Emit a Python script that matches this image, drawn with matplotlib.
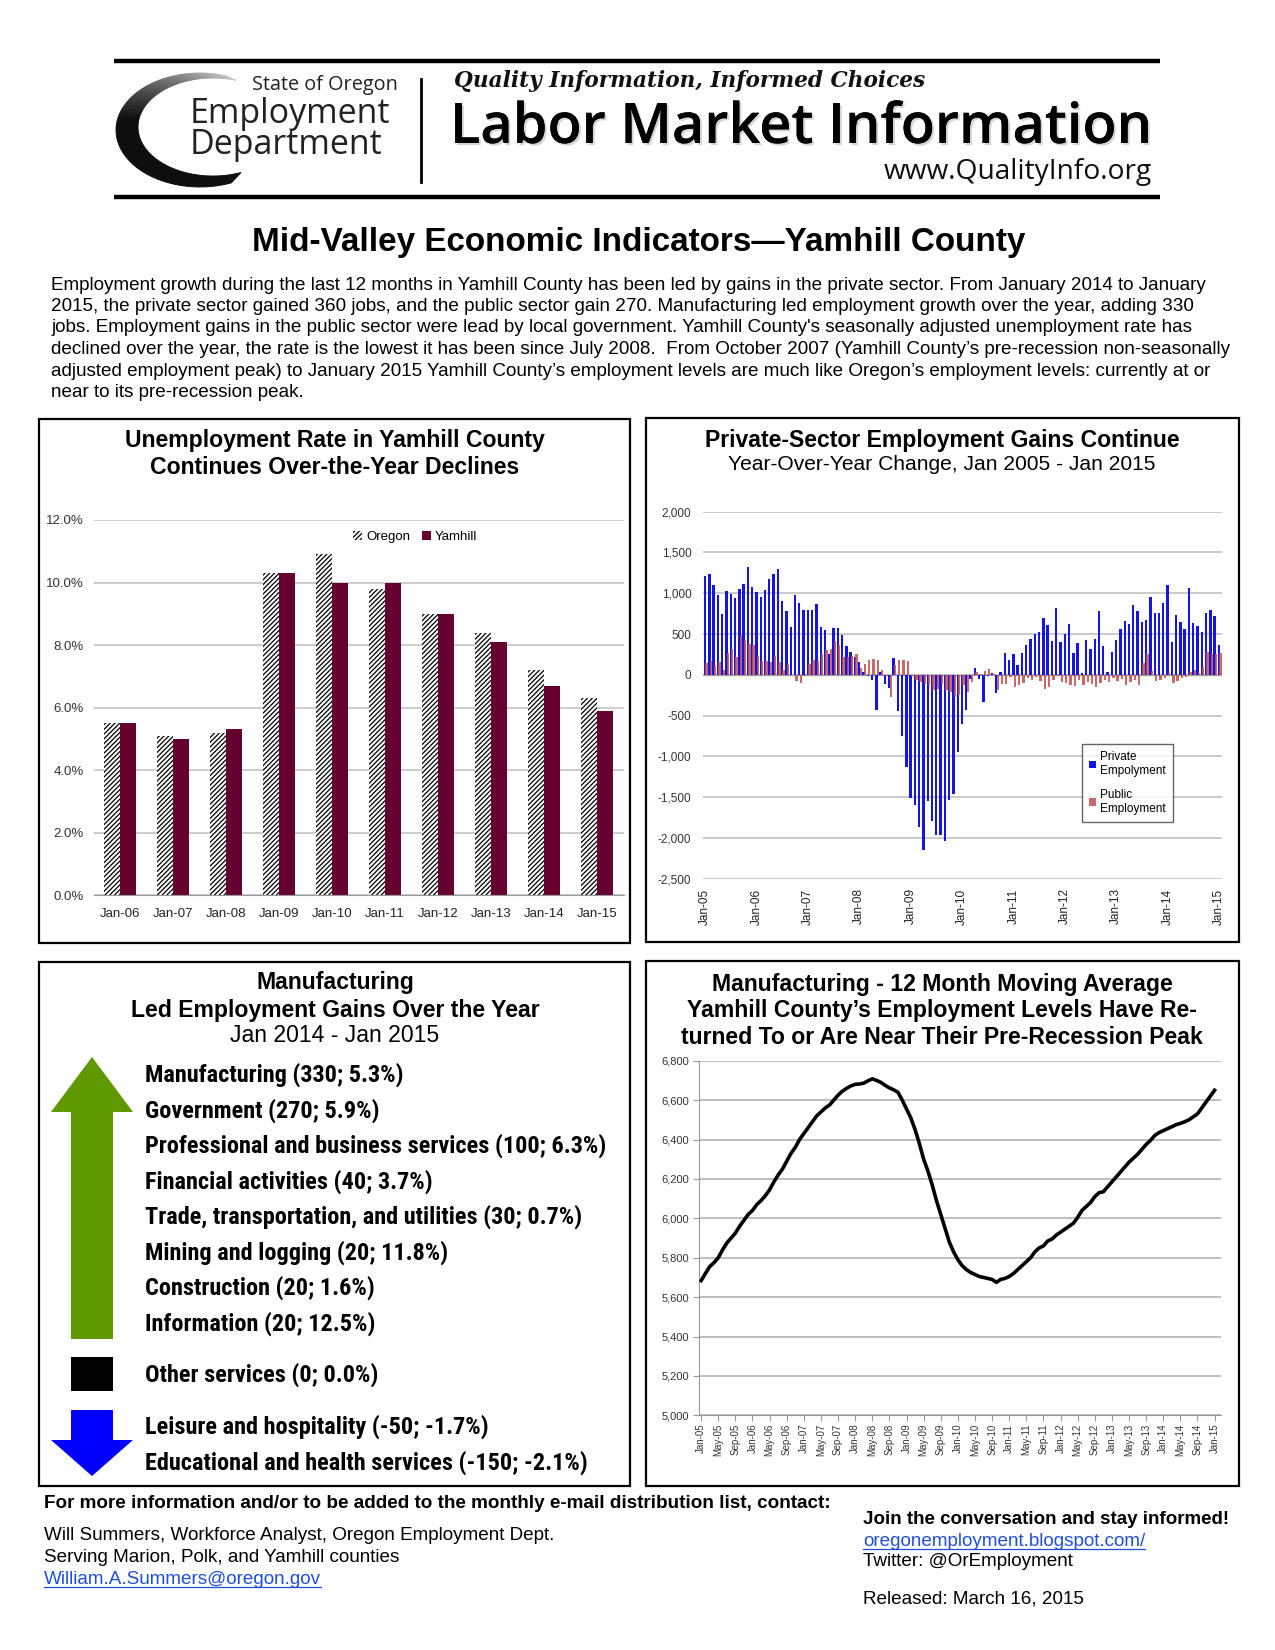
import matplotlib
matplotlib.use("Agg")
import matplotlib.pyplot as plt
import matplotlib.font_manager as fm
import matplotlib.patheffects as pe
from matplotlib.patches import Rectangle, Polygon
import numpy as np

# ---------------- data ----------------
unemp_labels = ["Jan-06", "Jan-07", "Jan-08", "Jan-09", "Jan-10",
                "Jan-11", "Jan-12", "Jan-13", "Jan-14", "Jan-15"]
oregon_rate = [5.5, 5.1, 5.2, 10.3, 10.9, 9.8, 9.0, 8.4, 7.2, 6.3]
yamhill_rate = [5.5, 5.0, 5.3, 10.3, 10.0, 10.0, 9.0, 8.1, 6.7, 5.9]

yoy_ticks = ["Jan-05", "Jan-06", "Jan-07", "Jan-08", "Jan-09", "Jan-10",
             "Jan-11", "Jan-12", "Jan-13", "Jan-14", "Jan-15"]
# monthly year-over-year change, Jan 2005 .. Jan 2015
private_change = [
    1208, 1240, 1106, 975, 745, 1027, 997, 945, 1055, 1115, 1320, 1078,
    1013, 955, 1037, 1174, 1240, 1292, 908, 782, 584, 977, 884, 798,
    798, 798, 866, 590, 545, 250, 580, 580, 485, 355, 283, 215,
    158, 35, -10, -60, -436, 32, -108, -156, 212, -440, -745, -1130,
    -1515, -1600, -1860, -2150, -1548, -1792, -1960, -1960, -2040, -1540, -1460, -948,
    -608, -428, -48, 84, -48, -336, -20, 20, -220, 32, 262, 178,
    254, 125, 268, 371, 445, 497, 526, 694, 612, 420, 815, 404,
    500, 629, 268, 395, 20, 422, 322, 445, 780, 352, 30, 283,
    432, 563, 661, 629, 855, 780, 651, 667, 957, 759, 759, 875,
    1106, 400, 730, 650, 560, 1060, 640, 600, 520, 760, 800, 720,
    360]
public_change = [
    139, 171, 106, 159, 57, 269, 322, 220, 490, 424, 383, 363,
    228, 167, 171, 159, 228, 159, 57, 129, 0, -76, -100, -10,
    129, 178, 171, 260, 300, 320, 413, 370, 219, 219, 227, 252,
    88, 137, 187, 199, 187, 60, -20, -268, 117, 178, 187, 164,
    -20, -68, -88, -108, -128, -188, -168, -108, -188, -208, -268, -248,
    -128, -208, -88, 30, 10, 50, 70, 10, -188, -108, -108, -28,
    -150, -130, -100, -40, -60, -30, -80, -170, -150, -60, -20, -90,
    -100, -120, -140, -60, -120, -90, -110, -150, -100, -60, -90, -40,
    -80, -50, -120, -90, -60, -130, 150, 260, 50, -80, -60, -40,
    20, -100, -80, -40, -30, 40, 60, 20, 100, 280, 250, 260,
    270]

mfg_ticks = ["Jan-05", "May-05", "Sep-05", "Jan-06", "May-06", "Sep-06",
             "Jan-07", "May-07", "Sep-07", "Jan-08", "May-08", "Sep-08",
             "Jan-09", "May-09", "Sep-09", "Jan-10", "May-10", "Sep-10",
             "Jan-11", "May-11", "Sep-11", "Jan-12", "May-12", "Sep-12",
             "Jan-13", "May-13", "Sep-13", "Jan-14", "May-14", "Sep-14",
             "Jan-15"]
mfg_avg = [
    5684, 5720, 5755, 5775, 5800, 5840, 5875, 5900, 5925, 5960, 5990, 6020,
    6040, 6070, 6090, 6115, 6145, 6185, 6220, 6250, 6290, 6330, 6360, 6400,
    6430, 6460, 6490, 6520, 6540, 6560, 6575, 6600, 6625, 6645, 6660, 6672,
    6680, 6682, 6686, 6698, 6708, 6700, 6690, 6675, 6662, 6652, 6640, 6600,
    6555, 6510, 6450, 6380, 6300, 6240, 6170, 6090, 6020, 5950, 5880, 5830,
    5790, 5760, 5740, 5725, 5715, 5705, 5700, 5695, 5690, 5675, 5690, 5695,
    5705, 5720, 5740, 5760, 5780, 5800, 5830, 5850, 5860, 5885, 5895, 5915,
    5930, 5945, 5960, 5975, 6005, 6040, 6060, 6080, 6110, 6130, 6135, 6160,
    6185, 6210, 6235, 6260, 6285, 6305, 6325, 6350, 6375, 6395, 6420, 6435,
    6445, 6455, 6465, 6475, 6482, 6490, 6500, 6515, 6530, 6560, 6590, 6620,
    6650]

gain_items = ["Manufacturing (330; 5.3%)",
              "Government (270; 5.9%)",
              "Professional and business services (100; 6.3%)",
              "Financial activities (40; 3.7%)",
              "Trade, transportation, and utilities (30; 0.7%)",
              "Mining and logging (20; 11.8%)",
              "Construction (20; 1.6%)",
              "Information (20; 12.5%)"]
flat_items = ["Other services (0; 0.0%)"]
loss_items = ["Leisure and hospitality (-50; -1.7%)",
              "Educational and health services (-150; -2.1%)"]

paragraph = [
    "Employment growth during the last 12 months in Yamhill County has been led by gains in the private sector. From January 2014 to January",
    "2015, the private sector gained 360 jobs, and the public sector gain 270. Manufacturing led employment growth over the year, adding 330",
    "jobs. Employment gains in the public sector were lead by local government. Yamhill County's seasonally adjusted unemployment rate has",
    "declined over the year, the rate is the lowest it has been since July 2008.  From October 2007 (Yamhill County\u2019s pre-recession non-seasonally",
    "adjusted employment peak) to January 2015 Yamhill County\u2019s employment levels are much like Oregon\u2019s employment levels: currently at or",
    "near to its pre-recession peak.",
]


def has_font(name):
    try:
        fm.findfont(fm.FontProperties(family=name), fallback_to_default=False)
        return True
    except Exception:
        return False


def find_narrow():
    for name in ("Liberation Sans Narrow", "Arial Narrow", "Roboto Condensed",
                 "Open Sans Condensed", "DejaVu Sans Condensed", "Noto Sans Condensed"):
        if has_font(name):
            return name
    for f in fm.fontManager.ttflist:
        if ("Narrow" in f.name or "Condensed" in f.name) and "Mono" not in f.name:
            return f.name
    return None


SANS = "Liberation Sans" if has_font("Liberation Sans") else "DejaVu Sans"
NARROW = find_narrow() or SANS
SERIF = "DejaVu Serif"
LOGO = "Open Sans" if has_font("Open Sans") else "DejaVu Sans"
plt.rcParams["font.family"] = [SANS, "DejaVu Sans"]
plt.rcParams["hatch.linewidth"] = 0.9

W, H = 1275, 1650
fig = plt.figure(figsize=(W / 100, H / 100), dpi=100)
renderer = fig.canvas.get_renderer()

# overlay in pixel coordinates (y down)
ov = fig.add_axes([0, 0, 1, 1])
ov.set_xlim(0, W)
ov.set_ylim(H, 0)
ov.axis("off")


def px_axes(l, t, r, b):
    return fig.add_axes([l / W, 1 - b / H, (r - l) / W, (b - t) / H])


def fit_size(s, width, **kw):
    t = ov.text(0, 0, s, fontsize=20, **kw)
    w = t.get_window_extent(renderer).width
    t.remove()
    return 20 * width / w


def underline(x, y, s, **kw):
    t = ov.text(x, y, s, va="baseline", **kw)
    w = t.get_window_extent(renderer).width
    ov.plot([x, x + w], [y + 2.5, y + 2.5], color=kw.get("color", "k"), lw=0.9)


# ---------------- header ----------------
for yy in (60.5, 197):
    ov.plot([114, 1160], [yy, yy], color="black", lw=3.2, solid_capstyle="butt")
ov.plot([421, 421], [79, 182], color="black", lw=2.0)

# swoosh of the logo
th = np.radians(np.linspace(72, 292, 80))
outer = np.c_[200 + 84 * np.cos(th), 130 - 57 * np.sin(th)]
inner = np.c_[213 + 75 * np.cos(th), 127 - 49 * np.sin(th)]
for k in range(len(th) - 1):
    f = min(1.0, k / 35)
    g = 0.78 * (1 - f) + 0.05 * f
    poly = np.vstack([outer[k:k + 2], inner[k:k + 2][::-1]])
    ov.add_patch(Polygon(poly, closed=True, color=(g, g, g), lw=0.6))

ov.text(252, 90, "State of Oregon", fontsize=fit_size("State of Oregon", 146, family=LOGO),
        family=LOGO, va="baseline", color="#222222")
es = fit_size("Employment", 200, family=LOGO)
# multi-line text: 'baseline' anchors the last line
ov.text(190, 154, "Employment\nDepartment", fontsize=es, family=LOGO, va="baseline",
        linespacing=0.88, color="#222222")

q = "Quality Information, Informed Choices"
ov.text(454, 87, q, fontsize=fit_size(q, 470, family=SERIF, weight="bold", style="italic"),
        family=SERIF, weight="bold", style="italic", va="baseline", color="#111111")
lm = "Labor Market Information"
ov.text(450, 143, lm, fontsize=fit_size(lm, 700, family=LOGO, weight="semibold"),
        family=LOGO, weight="semibold", va="baseline", color="black",
        path_effects=[pe.withSimplePatchShadow(offset=(1.5, -1.5), shadow_rgbFace="#888888", alpha=0.35),
                      pe.Normal()])
ww = "www.QualityInfo.org"
ov.text(1152, 179, ww, fontsize=fit_size(ww, 268, family=LOGO),
        family=LOGO, va="baseline", ha="right", color="#111111")

# ---------------- title and text ----------------
title = "Mid-Valley Economic Indicators\u2014Yamhill County"
ov.text(639, 242, title, fontsize=fit_size(title, 771, weight="bold"), weight="bold",
        ha="center", va="center")
ps = fit_size(paragraph[0], 1158)
for k, line in enumerate(paragraph):
    ov.text(51, 285 + 21.5 * k, line, fontsize=ps, va="center")

# ---------------- panel frames ----------------
for (l, t, r, b) in [(39, 419, 630, 943), (646, 418, 1239, 942),
                     (39, 962, 630, 1486), (646, 961, 1239, 1486)]:
    ov.add_patch(Rectangle((l, t), r - l, b - t, fill=False, ec="black", lw=1.6))

ts = fit_size("Unemployment Rate in Yamhill County", 421, weight="bold")
ov.text(335, 441, "Unemployment Rate in Yamhill County", fontsize=ts, weight="bold", ha="center", va="center")
ov.text(335, 468, "Continues Over-the-Year Declines", fontsize=ts, weight="bold", ha="center", va="center")
ov.text(942, 441, "Private-Sector Employment Gains Continue", fontsize=ts, weight="bold", ha="center", va="center")
ov.text(942, 465, "Year-Over-Year Change, Jan 2005 - Jan 2015", fontsize=ts * 0.915, ha="center", va="center")
ov.text(335, 983, "Manufacturing", fontsize=ts, weight="bold", ha="center", va="center")
ov.text(335, 1010, "Led Employment Gains Over the Year", fontsize=ts, weight="bold", ha="center", va="center")
ov.text(335, 1036, "Jan 2014 - Jan 2015", fontsize=ts, ha="center", va="center")
ov.text(942, 984, "Manufacturing - 12 Month Moving Average", fontsize=ts, weight="bold", ha="center", va="center")
ov.text(942, 1011, "Yamhill County\u2019s Employment Levels Have Re-", fontsize=ts, weight="bold", ha="center", va="center")
ov.text(942, 1037, "turned To or Are Near Their Pre-Recession Peak", fontsize=ts, weight="bold", ha="center", va="center")

# ---------------- chart 1: unemployment rate ----------------
ax1 = px_axes(93.5, 520, 623.5, 895)
ax1.set_facecolor("none")
x = np.arange(len(unemp_labels))
bw = 0.296
ax1.bar(x - bw / 2, oregon_rate, bw, color="white", edgecolor="black", hatch="///////",
        linewidth=0, label="Oregon", zorder=2)
ax1.bar(x + bw / 2, yamhill_rate, bw, color="#66002E", linewidth=0, label="Yamhill", zorder=2)
ax1.set_xlim(-0.5, len(x) - 0.5)
ax1.set_ylim(0, 12)
ax1.set_yticks(np.arange(0, 12.1, 2))
ax1.yaxis.set_major_formatter(lambda v, p: f"{v:.1f}%")
ax1.grid(axis="y", color="#BEBEBE", lw=1.1)
ax1.set_axisbelow(True)
for s in ("top", "right", "left"):
    ax1.spines[s].set_visible(False)
ax1.spines["bottom"].set_color("#9A9A9A")
ax1.tick_params(axis="y", length=0, pad=7, labelsize=9.5, labelcolor="#333333")
ax1.set_xticks(x, unemp_labels)
ax1.tick_params(axis="x", length=0, pad=9, labelsize=9.5, labelcolor="#222222")
ax1.legend(loc="center", bbox_to_anchor=(0.607, 0.955), ncol=2, frameon=False, fontsize=9.5,
           handlelength=0.7, handleheight=0.7, handletextpad=0.3, columnspacing=0.9)

# ---------------- chart 2: private / public change ----------------
ax2 = px_axes(702.5, 511.7, 1221.5, 878.7)
ax2.set_facecolor("none")
m = np.arange(len(private_change))
ax2.bar(m, private_change, 0.55, color="#1414E6", lw=0, label="Private\nEmpolyment", zorder=2)
ax2.bar(m + 0.35, public_change, 0.55, color="#C0504D", alpha=0.85, lw=0,
        label="Public\nEmployment", zorder=3)
ax2.set_xlim(-0.6, len(m) - 0.4)
ax2.set_ylim(-2500, 2000)
ax2.set_yticks(np.arange(-2500, 2001, 500))
ax2.yaxis.set_major_formatter(lambda v, p: f"{v:,.0f}")
ax2.grid(axis="y", color="#C6C6C6", lw=1.3)
ax2.set_axisbelow(True)
ax2.axhline(0, color="#A0A0A0", lw=1.0, zorder=1)
for s in ax2.spines.values():
    s.set_visible(False)
ax2.set_xticks(np.arange(0, len(m), 12), yoy_ticks, rotation=90)
ax2.tick_params(axis="x", length=0, pad=7, labelsize=8.5, labelcolor="#222222")
ax2.tick_params(axis="y", length=0, pad=8, labelsize=8.5, labelcolor="#333333")
leg = ax2.legend(loc="center", bbox_to_anchor=(0.819, 0.261), fontsize=8.5, frameon=True,
                 fancybox=False, edgecolor="#404040", handlelength=0.6, handleheight=0.6,
                 handletextpad=0.35, labelspacing=1.0, borderpad=0.6)
leg.get_frame().set_linewidth(1.0)

# ---------------- panel 3: industry list ----------------
ov.add_patch(Polygon([(92, 1057), (133, 1112), (113, 1112), (113, 1339), (71, 1339),
                      (71, 1112), (51, 1112)], closed=True, color="#5E9900", lw=0))
ov.add_patch(Rectangle((71, 1357), 42, 34, color="black", lw=0))
ov.add_patch(Polygon([(71, 1410), (113, 1410), (113, 1440), (133, 1440), (92, 1476),
                      (51, 1440), (71, 1440)], closed=True, color="#0000FF", lw=0))
ls = fit_size(gain_items[2], 461, family=NARROW, weight="bold")
ys_up = [1075, 1111, 1146, 1182, 1217, 1253, 1288, 1324]
for yy, s in zip(ys_up, gain_items):
    ov.text(145, yy, s, fontsize=ls, family=NARROW, weight="bold", va="center")
for yy, s in zip([1375], flat_items):
    ov.text(145, yy, s, fontsize=ls, family=NARROW, weight="bold", va="center")
for yy, s in zip([1427, 1463], loss_items):
    ov.text(145, yy, s, fontsize=ls, family=NARROW, weight="bold", va="center")

# ---------------- chart 4: manufacturing ----------------
ax4 = px_axes(699, 1060.7, 1221, 1415.4)
ax4.set_facecolor("none")
ax4.plot(m, mfg_avg, color="black", lw=2.6, solid_joinstyle="round", zorder=3)
ax4.set_xlim(-0.5, len(m) + 0.5)
ax4.set_ylim(5000, 6800)
ax4.set_yticks(np.arange(5000, 6801, 200))
ax4.yaxis.set_major_formatter(lambda v, p: f"{v:,.0f}")
ax4.grid(axis="y", color="#B4B4B4", lw=1.2)
ax4.set_axisbelow(True)
ax4.spines["top"].set_visible(False)
ax4.spines["right"].set_visible(False)
ax4.spines["left"].set_color("#9A9A9A")
ax4.spines["bottom"].set_color("#9A9A9A")
ax4.set_xticks(np.arange(0, len(m), 4), mfg_ticks, rotation=90)
ax4.tick_params(axis="x", length=4, width=0.8, color="#9A9A9A", pad=2, labelsize=7,
                labelcolor="#333333")
ax4.tick_params(axis="y", length=4, width=0.8, color="#9A9A9A", pad=3, labelsize=8,
                labelcolor="#333333")

# ---------------- footer ----------------
f1 = "For more information and/or to be added to the monthly e-mail distribution list, contact:"
ov.text(44, 1503, f1, fontsize=fit_size(f1, 783, weight="bold"), weight="bold", va="center")
f2 = "Will Summers, Workforce Analyst, Oregon Employment Dept."
fs = fit_size(f2, 511)
ov.text(44, 1536, f2, fontsize=fs, va="center")
ov.text(44, 1558, "Serving Marion, Polk, and Yamhill counties", fontsize=fs, va="center")
underline(44, 1584, "William.A.Summers@oregon.gov", fontsize=fs, color="#1F4FD8")
j1 = "Join the conversation and stay informed!"
ov.text(863, 1519, j1, fontsize=fit_size(j1, 367, weight="bold"), weight="bold", va="center")
underline(863, 1546, "oregonemployment.blogspot.com/", fontsize=fs, color="#1F4FD8")
ov.text(863, 1562, "Twitter: @OrEmployment", fontsize=fs, va="center")
ov.text(863, 1599, "Released: March 16, 2015", fontsize=fs, va="center")

fig.savefig("out.png", dpi=100)
